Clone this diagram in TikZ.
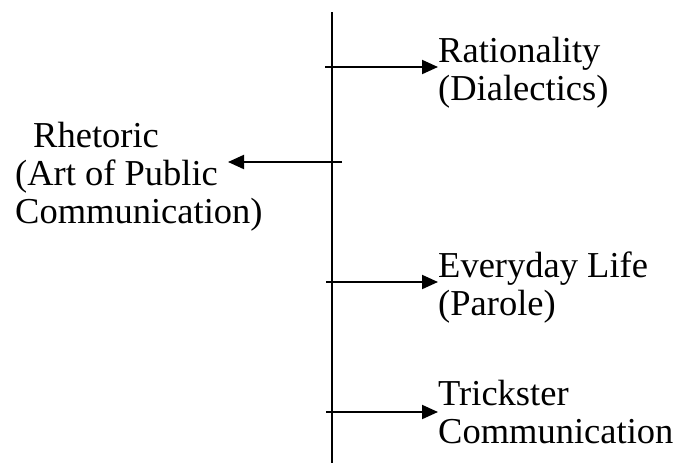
\documentclass[tikz,border=0pt]{standalone}
\usepackage{fontspec}
\setmainfont{Liberation Serif}
\usetikzlibrary{arrows.meta}
\begin{document}
\begin{tikzpicture}[x=1pt, y=-1pt,
  lbl/.style ={anchor=base west, inner sep=0pt, align=left,
               font=\fontsize{36.5}{38}\selectfont},
  ax/.style  ={line width=1.8pt},
  fl/.style  ={-{Triangle[length=16pt,width=14pt]}, line width=2pt}]
\useasboundingbox (0,0) rectangle (679,466);

% axis
\coordinate (top) at (332,12);
\coordinate (bot) at (332,463);
\draw[ax] (top) -- (bot);

% labels (placed by the baseline of their last line)
\node[lbl] (rat) at (438,100) {Rationality\\(Dialectics)};
\node[lbl] (rhe) at (15,223)  {\hspace*{18pt}Rhetoric\\(Art of Public\\Communication)};
\node[lbl] (ev)  at (438,315) {Everyday Life\\(Parole)};
\node[lbl] (tr)  at (438,443) {Trickster\\Communication};

% arrows
\coordinate (s1) at (325,67);
\coordinate (s2) at (342,162);
\coordinate (t2) at (228,162);
\coordinate (s3) at (326,282);
\coordinate (s4) at (326,412);
\foreach \s/\n in {s1/rat,s3/ev,s4/tr}
  \draw[fl] (\s) -- (\s -| \n.west);
\draw[fl] (s2) -- (t2);
\end{tikzpicture}
\end{document}
